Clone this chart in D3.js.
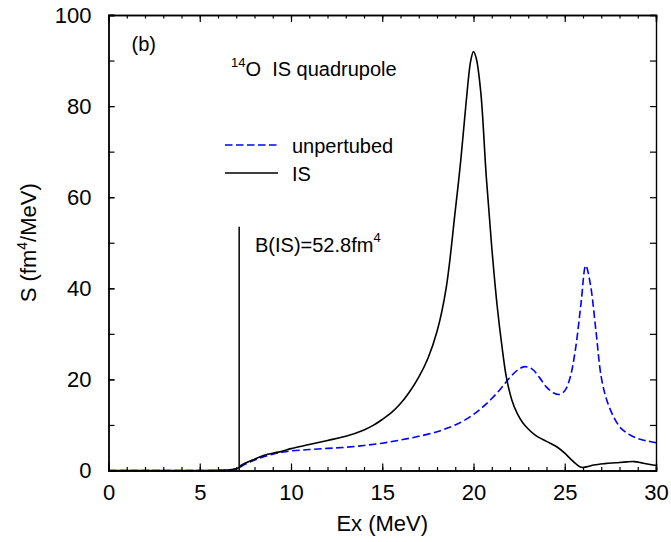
<!DOCTYPE html>
<html>
<head>
<meta charset="utf-8">
<script src="https://cdn.jsdelivr.net/npm/d3@7"></script>
<style>
  body { margin: 0; background: #fff; }
  svg text { font-family: "Liberation Sans", Arial, Helvetica, sans-serif; fill: #000; }
</style>
</head>
<body>
<div id="chart"></div>
<script>
// values
const isEx = [0, 5, 6, 6.5, 7, 7.16, 7.3, 8, 8.5, 9, 9.5, 10, 11, 12, 13, 14, 14.5, 15, 15.5, 16, 16.5, 17, 17.5, 18, 18.5, 19, 19.3, 19.6, 19.85, 20, 20.15, 20.4, 20.7, 21, 21.3, 21.6, 21.8, 22.1, 22.4, 22.7, 23, 23.4, 23.8, 24.2, 24.6, 25, 25.3, 25.6, 25.9, 26.2, 26.6, 27.2, 27.8, 28.4, 28.8, 29.3, 30];
const isS  = [0, 0, 0.02, 0.1, 0.4, 0.7, 1.2, 2.5, 3.3, 3.8, 4.2, 4.8, 5.7, 6.6, 7.5, 8.9, 9.9, 11.2, 12.7, 14.7, 17.3, 20.5, 24.6, 30.5, 40, 57, 68, 81, 90, 92, 90.5, 83, 64.5, 49, 36, 26, 20.5, 15.5, 12.5, 10.5, 9.1, 7.7, 6.8, 6.0, 5.1, 3.8, 2.6, 1.5, 0.7, 0.8, 1.2, 1.5, 1.7, 1.9, 1.95, 1.6, 1.1];

const unpEx = [0, 5, 6, 6.5, 7, 7.5, 8, 8.5, 9, 9.5, 10, 11, 12, 13, 14, 15, 16, 17, 18, 18.5, 19, 19.5, 20, 20.5, 21, 21.5, 21.8, 22.2, 22.5, 22.8, 23.2, 23.6, 24, 24.4, 24.7, 25, 25.3, 25.6, 25.9, 26.15, 26.4, 26.7, 27, 27.3, 27.7, 28.1, 28.5, 29, 29.5, 30];
const unpS  = [0, 0, 0.02, 0.1, 0.4, 1.4, 2.3, 3.0, 3.6, 4.0, 4.3, 4.6, 4.85, 5.1, 5.5, 6.0, 6.7, 7.5, 8.5, 9.2, 10.0, 11.0, 12.3, 13.9, 15.8, 18.0, 19.5, 21.3, 22.3, 22.8, 22.3, 20.5, 18.3, 17.0, 16.7, 17.5, 20.5, 27, 37, 45, 41, 31, 20.5, 15.5, 11.6, 9.2, 8.0, 7.0, 6.5, 6.1];

// discrete low-lying state
const spikeEx = 7.16;
const spikeB = [0, 53.5];

const xTicks = [0, 5, 10, 15, 20, 25, 30];
const xMinor = d3.range(0, 31, 1);
const yTicks = [0, 20, 40, 60, 80, 100];
const yMinor = d3.range(0, 101, 10);

const width = 671, height = 542;
const margin = {top: 15, right: 15, bottom: 71.5, left: 108.5};
const x0 = margin.left, x1 = width - margin.right;
const y0 = height - margin.bottom, y1 = margin.top;

const svg = d3.select("#chart").append("svg")
    .attr("width", width)
    .attr("height", height);

const xScale = d3.scaleLinear().domain([0, 30]).range([x0, x1]);
const yScale = d3.scaleLinear().domain([0, 100]).range([y0, y1]);

// curves
const line = d3.line()
    .x(d => xScale(d[0]))
    .y(d => yScale(d[1]))
    .curve(d3.curveCatmullRom.alpha(0.5));

svg.append("path")
    .datum(unpEx.map((e, i) => [e, unpS[i]]))
    .attr("d", line)
    .attr("fill", "none")
    .attr("stroke", "#0000ff")
    .attr("stroke-width", 1.6)
    .attr("stroke-dasharray", "7.5,3.5");

svg.append("path")
    .datum(isEx.map((e, i) => [e, isS[i]]))
    .attr("d", line)
    .attr("fill", "none")
    .attr("stroke", "#000")
    .attr("stroke-width", 1.6);

svg.append("line")
    .attr("x1", xScale(spikeEx)).attr("x2", xScale(spikeEx))
    .attr("y1", yScale(spikeB[0])).attr("y2", yScale(spikeB[1]))
    .attr("stroke", "#000")
    .attr("stroke-width", 1.5);

// axes (ticks drawn inward on all four sides)
function styleAxis(g) {
    g.selectAll("path").attr("stroke", "#000").attr("stroke-width", 1.4);
    g.selectAll("line").attr("stroke", "#000").attr("stroke-width", 1.2);
    g.selectAll("text").attr("font-size", 22).attr("fill", "#000")
        .attr("font-family", "'Liberation Sans', Arial, Helvetica, sans-serif");
}

svg.append("g").attr("transform", "translate(0," + y0 + ")")
    .call(d3.axisBottom(xScale).tickValues(xMinor).tickSize(-3.5).tickFormat(""))
    .call(styleAxis);
svg.append("g").attr("transform", "translate(0," + y0 + ")")
    .call(d3.axisBottom(xScale).tickValues(xTicks).tickSize(-7).tickPadding(14).tickFormat(d3.format("d")))
    .call(styleAxis);
svg.append("g").attr("transform", "translate(0," + y1 + ")")
    .call(d3.axisTop(xScale).tickValues(xMinor).tickSize(-3.5).tickFormat(""))
    .call(styleAxis);
svg.append("g").attr("transform", "translate(0," + y1 + ")")
    .call(d3.axisTop(xScale).tickValues(xTicks).tickSize(-7).tickFormat(""))
    .call(styleAxis);

svg.append("g").attr("transform", "translate(" + x0 + ",0)")
    .call(d3.axisLeft(yScale).tickValues(yMinor).tickSize(-6).tickFormat(""))
    .call(styleAxis);
svg.append("g").attr("transform", "translate(" + x0 + ",0)")
    .call(d3.axisLeft(yScale).tickValues(yTicks).tickSize(-6).tickPadding(17).tickFormat(d3.format("d")))
    .call(styleAxis);
svg.append("g").attr("transform", "translate(" + x1 + ",0)")
    .call(d3.axisRight(yScale).tickValues(yMinor).tickSize(-6).tickFormat(""))
    .call(styleAxis);

// axis titles
svg.append("text")
    .attr("x", (x0 + x1) / 2)
    .attr("y", 531)
    .attr("text-anchor", "middle")
    .attr("font-size", 22)
    .text("Ex (MeV)");

const yLab = svg.append("text")
    .attr("transform", "translate(36," + ((y0 + y1) / 2) + ") rotate(-90)")
    .attr("text-anchor", "middle")
    .attr("font-size", 22);
yLab.append("tspan").text("S (fm");
yLab.append("tspan").attr("font-size", 14).attr("dy", -9).text("4");
yLab.append("tspan").attr("dy", 9).text("/MeV)");

// annotations
svg.append("text")
    .attr("x", 131.5).attr("y", 51)
    .attr("font-size", 20)
    .text("(b)");

const title = svg.append("text")
    .attr("x", 231).attr("y", 75.5)
    .attr("font-size", 20);
title.append("tspan").attr("font-size", 13).attr("dy", -9).text("14");
title.append("tspan").attr("dy", 9).text("O\u00a0\u00a0IS quadrupole");

const bText = svg.append("text")
    .attr("x", 255).attr("y", 251.5)
    .attr("font-size", 20);
bText.append("tspan").text("B(IS)=52.8fm");
bText.append("tspan").attr("font-size", 13).attr("dy", -10).text("4");

// legend
const legend = svg.append("g");
legend.append("line")
    .attr("x1", 225).attr("x2", 277).attr("y1", 145).attr("y2", 145)
    .attr("stroke", "#0000ff").attr("stroke-width", 1.6)
    .attr("stroke-dasharray", "7.5,3.5");
legend.append("text")
    .attr("x", 292).attr("y", 152.5)
    .attr("font-size", 20)
    .text("unpertubed");
legend.append("line")
    .attr("x1", 225).attr("x2", 278).attr("y1", 173).attr("y2", 173)
    .attr("stroke", "#000").attr("stroke-width", 1.6);
legend.append("text")
    .attr("x", 292).attr("y", 180.5)
    .attr("font-size", 20)
    .text("IS");
</script>
</body>
</html>
